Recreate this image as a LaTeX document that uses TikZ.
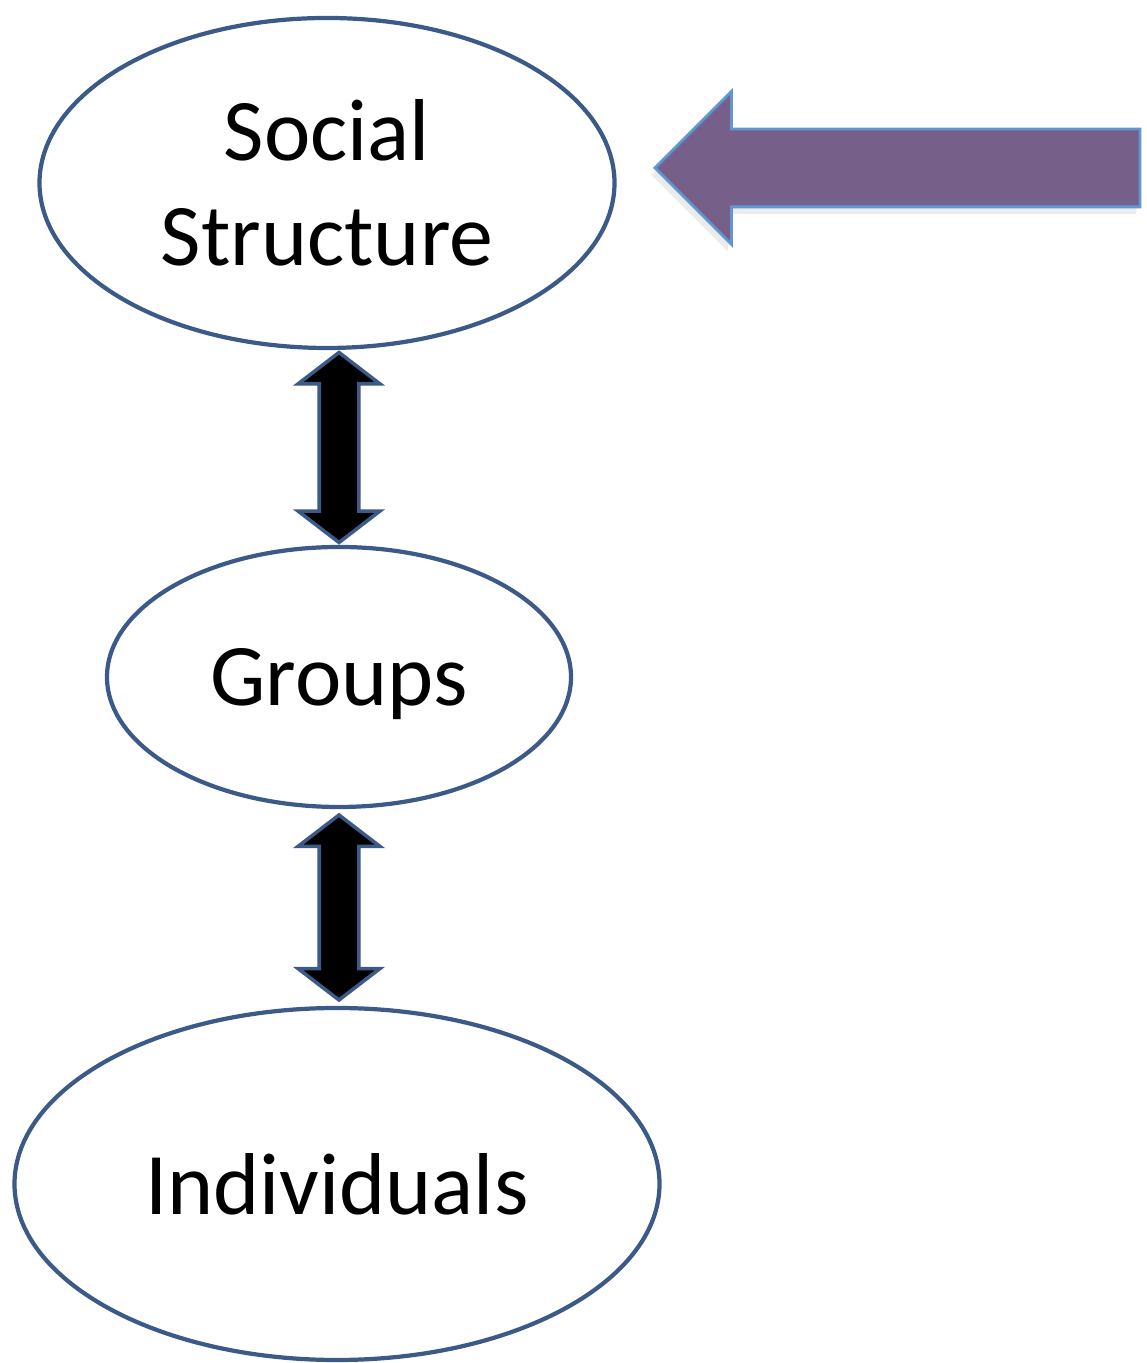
\documentclass[tikz,border=0pt]{standalone}
\usepackage{fontspec}
\setmainfont{Carlito}
\usetikzlibrary{shapes.geometric,shapes.arrows,calc,shadows}

\definecolor{ovalline}{RGB}{60,90,135}
\definecolor{arrowfill}{RGB}{118,96,138}
\definecolor{arrowline}{RGB}{96,150,210}

\begin{document}
\begin{tikzpicture}[
	oval/.style={ellipse, draw=ovalline, line width=1.2pt, inner sep=0pt, align=center,
		font=\fontsize{25}{30}\selectfont},
	dblarrow/.style={double arrow, rotate=90, fill=black, draw=ovalline, line width=1pt,
		inner sep=0.18cm, double arrow head extend=0.21cm, double arrow tip angle=105},
	bigarrow/.style={single arrow, shape border rotate=180, fill=arrowfill, draw=arrowline,
		line width=0.8pt, inner sep=0.375cm, single arrow head extend=0.375cm,
		single arrow tip angle=90, minimum height=4.85cm,
		drop shadow={shadow xshift=-1pt, shadow yshift=-2pt, opacity=0.15}}
	]
	\useasboundingbox (0, 0) rectangle (11.47, 13.63);

	\node[oval, minimum width=5.75cm, minimum height=3.30cm] (soc) at (3.27, 11.80) {Social\\Structure};
	\node[oval, minimum width=4.64cm, minimum height=2.60cm, text depth=0pt] (grp) at (3.39, 6.86) {Groups};
	\node[oval, minimum width=6.45cm, minimum height=3.52cm] (ind) at (3.37, 1.79) {Individuals};

	% arrows between the levels
	\node[dblarrow, minimum height=1.9cm] (up) at ($(soc.south -| grp.north)!0.5!(grp.north)$) {};
	\node[dblarrow, minimum height=1.85cm] (down) at ($(grp.south)!0.5!(ind.north -| grp.south)$) {};

	% pointer to the top level
	\node[bigarrow, anchor=tip] (pointer) at (6.53, 11.95) {};
\end{tikzpicture}
\end{document}
